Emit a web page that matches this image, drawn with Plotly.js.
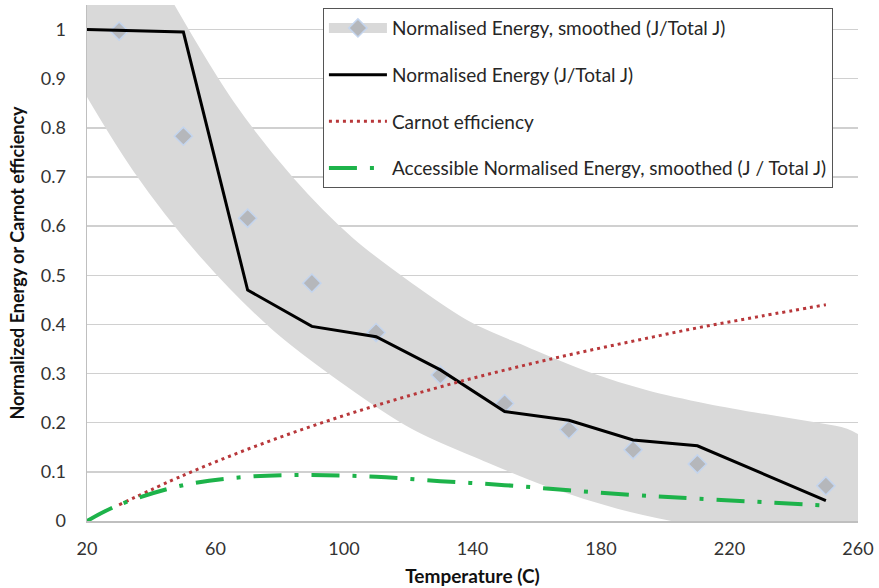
<!DOCTYPE html>
<html>
<head>
<meta charset="utf-8">
<script src="https://cdn.plot.ly/plotly-3.0.1.min.js"></script>
<style>
  html, body { margin: 0; padding: 0; background: #fff; }
  #chart { width: 879px; height: 588px; }
  .scatterlayer .trace:first-child .js-line { stroke-linecap: round; stroke-linejoin: round; }
</style>
</head>
<body>
<div id="chart"></div>
<script>
// Temperatures (C)
const smoothTemps = [30, 50, 70, 90, 110, 130, 150, 170, 190, 210, 250];
const smoothValues = [0.997, 0.783, 0.616, 0.484, 0.3835, 0.297, 0.239, 0.186, 0.145, 0.116, 0.0715];

const energyTemps = [20, 50, 70, 90, 110, 130, 150, 170, 190, 210, 250];
const energyValues = [1.0, 0.995, 0.470, 0.396, 0.375, 0.3075, 0.2226, 0.205, 0.165, 0.153, 0.0414];

const carnotTemps = [30, 50, 70, 90, 110, 130, 150, 170, 190, 210, 230, 250];
const carnotValues = [0.033, 0.093, 0.146, 0.193, 0.235, 0.273, 0.307, 0.338, 0.366, 0.393, 0.417, 0.440];

const accessTemps = [20, 30, 50, 70, 90, 110, 130, 150, 170, 190, 210, 250];
const accessValues = [0.0, 0.033, 0.073, 0.090, 0.0935, 0.090, 0.081, 0.073, 0.0625, 0.053, 0.0456, 0.0314];

const xTicks = [20, 60, 100, 140, 180, 220, 260];
const yTicks = [0, 0.1, 0.2, 0.3, 0.4, 0.5, 0.6, 0.7, 0.8, 0.9, 1];
const yTickText = ['0', '0.1', '0.2', '0.3', '0.4', '0.5', '0.6', '0.7', '0.8', '0.9', '1'];

const seriesNames = [
  'Normalised Energy, smoothed (J/Total J)',
  'Normalised Energy (J/Total J)',
  'Carnot efficiency',
  'Accessible Normalised Energy, smoothed (J / Total J)'
];

const FONT = 'Lato, "Open Sans", "DejaVu Sans", sans-serif';

const traces = [
  {
    x: smoothTemps, y: smoothValues, name: seriesNames[0], legendgroup: 'g1',
    type: 'scatter', mode: 'lines+markers',
    line: { color: '#d9d9d9', width: 122, shape: 'spline', smoothing: 1 },
    marker: { symbol: 'diamond', size: 14, color: '#b5b7bb', line: { color: '#c4d5ee', width: 1.5 } }
  },
  {
    x: energyTemps, y: energyValues, name: seriesNames[1], legendgroup: 'g2',
    type: 'scatter', mode: 'lines',
    line: { color: '#000000', width: 3 }
  },
  {
    x: carnotTemps, y: carnotValues, name: seriesNames[2], legendgroup: 'g3',
    type: 'scatter', mode: 'lines',
    line: { color: '#b8373a', width: 3, dash: '3px,4px', shape: 'spline' }
  },
  {
    x: accessTemps, y: accessValues, name: seriesNames[3], legendgroup: 'g4',
    type: 'scatter', mode: 'lines',
    line: { color: '#1db34a', width: 4, dash: '28px,13px,4px,13px', shape: 'spline' }
  }
];

const layout = {
  width: 879, height: 588,
  margin: { l: 87, r: 21, t: 5, b: 67 },
  paper_bgcolor: '#ffffff', plot_bgcolor: '#ffffff',
  font: { family: FONT, size: 18, color: '#333333' },
  showlegend: true,
  legend: {
    x: 0.306, y: 0.994, xanchor: 'left', yanchor: 'top',
    bgcolor: '#ffffff', bordercolor: '#555555', borderwidth: 1,
    font: { family: FONT, size: 19, color: '#262626' },
    traceorder: 'grouped', tracegroupgap: 19, itemwidth: 58
  },
  xaxis: {
    range: [20, 260], tickvals: xTicks, ticktext: xTicks.map(String),
    showgrid: false, zeroline: false,
    showline: true, linecolor: '#bfbfbf', linewidth: 1.5,
    ticks: 'outside', ticklen: 11, tickcolor: 'rgba(0,0,0,0)',
    tickfont: { family: FONT, size: 18, color: '#333333' },
    title: { text: 'Temperature (C)', font: { family: FONT, size: 19, color: '#111111', weight: 'bold' }, standoff: 11 }
  },
  yaxis: {
    range: [0, 1.05], tickvals: yTicks, ticktext: yTickText,
    showgrid: true, gridcolor: '#d0d0d0', gridwidth: 1.3, zeroline: false,
    showline: true, linecolor: '#bfbfbf', linewidth: 1.5,
    ticks: 'outside', ticklen: 16, tickcolor: 'rgba(0,0,0,0)',
    tickfont: { family: FONT, size: 18, color: '#333333' },
    title: { text: 'Normalized Energy or Carnot efficiency', font: { family: FONT, size: 18, color: '#111111', weight: 'bold' }, standoff: 11 }
  }
};

Plotly.newPlot('chart', traces, layout, { displayModeBar: false, staticPlot: true });
</script>
</body>
</html>
